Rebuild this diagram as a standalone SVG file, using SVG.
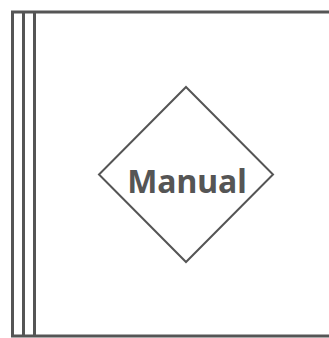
<svg xmlns="http://www.w3.org/2000/svg" width="329" height="338" viewBox="0 0 329 338">
<style>
.ln{fill:none;stroke:#555555;stroke-width:3}
.dm{fill:#ffffff;stroke:#555555;stroke-width:2}
.lb{font-family:"Noto Sans",sans-serif;font-weight:bold;font-size:32px;fill:#555555}
</style>
<rect width="329" height="338" fill="#ffffff"/>
<g id="frame">
<rect class="ln" x="12.5" y="12" width="330" height="324"/>
<line class="ln" x1="23.5" y1="12" x2="23.5" y2="336"/>
<line class="ln" x1="34.5" y1="12" x2="34.5" y2="336"/>
</g>
<g id="connectors"></g>
<g id="manual">
<polygon class="dm" points="186,87 273,174.5 186,262 99,174.5"/>
<text class="lb" x="187" y="193" text-anchor="middle">Manual</text>
</g>
</svg>
